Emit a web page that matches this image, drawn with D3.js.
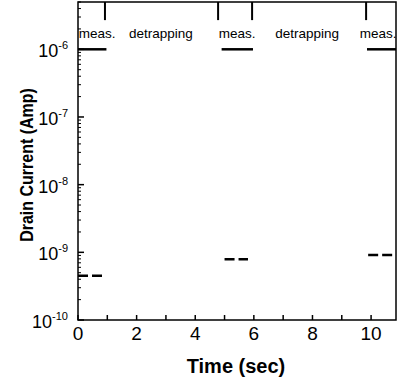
<!DOCTYPE html>
<html>
<head>
<meta charset="utf-8">
<script src="https://cdn.jsdelivr.net/npm/d3@7"></script>
<style>
  body { margin: 0; background: #fff; }
  svg text { font-family: 'Liberation Sans', Arial, sans-serif; }
</style>
</head>
<body>
<div id="chart"></div>
<script>
// time windows (sec) where the drain current was sampled at 1e-6 A
const measStart = [0, 4.9, 9.86];
const measEnd = [0.97, 5.97, 10.85];
const measLevel = [1e-6, 1e-6, 1e-6];

// vertical phase markers along the top
const markerTimes = [0.92, 4.78, 5.94, 9.83];
const markerLow = 2.7e-6;

// leakage current read between pulses (dashed)
const leakStart = [0, 5.0, 9.9];
const leakEnd = [0.88, 5.8, 10.85];
const leakLevel = [4.5e-10, 7.9e-10, 9.1e-10];

// phase labels
const phaseNames = ['meas.', 'detrapping', 'meas.', 'detrapping', 'meas.'];
const phaseTimes = [0.65, 2.83, 5.43, 7.82, 10.24];

const xTicks = [0, 2, 4, 6, 8, 10];
const xMinor = [1, 3, 5, 7, 9];
const yTicks = [1e-10, 1e-9, 1e-8, 1e-7, 1e-6];

const width = 399, height = 386;
const m = { top: 2, right: 3, bottom: 66, left: 78 };

const svg = d3.select('#chart').append('svg')
    .attr('width', width)
    .attr('height', height);

const x = d3.scaleLinear().domain([0, 10.85]).range([m.left, width - m.right]);
const y = d3.scaleLog().domain([1e-10, 5e-6]).range([height - m.bottom, m.top]);

svg.append('clipPath').attr('id', 'plot')
  .append('rect')
    .attr('x', m.left).attr('y', m.top)
    .attr('width', width - m.left - m.right)
    .attr('height', height - m.top - m.bottom);

const g = svg.append('g').attr('clip-path', 'url(#plot)');

// minor log ticks on the left axis
let minor = [];
for (let e = -10; e <= -6; e++) {
    for (let k = 2; k <= 9; k++) {
        const v = k * Math.pow(10, e);
        if (v <= y.domain()[1]) minor.push(v);
    }
}

svg.append('g')
    .selectAll('line')
    .data(minor)
    .enter().append('line')
        .attr('x1', m.left).attr('x2', m.left + 3)
        .attr('y1', d => y(d)).attr('y2', d => y(d))
        .attr('stroke', '#000').attr('stroke-width', 1);

svg.append('g')
    .selectAll('line')
    .data(yTicks)
    .enter().append('line')
        .attr('x1', m.left).attr('x2', m.left + 6)
        .attr('y1', d => y(d)).attr('y2', d => y(d))
        .attr('stroke', '#000').attr('stroke-width', 1.5);

const yl = svg.append('g')
    .selectAll('text')
    .data(yTicks)
    .enter().append('text')
        .attr('x', m.left - 10)
        .attr('y', d => y(d) + 8)
        .attr('text-anchor', 'end')
        .style('font-size', '18px');
yl.append('tspan').text('10');
yl.append('tspan')
    .attr('dy', -8)
    .style('font-size', '11px')
    .text(d => Math.round(Math.log10(d)));

// x ticks, pointing up into the plot
svg.append('g')
    .selectAll('line')
    .data(xTicks.concat(xMinor))
    .enter().append('line')
        .attr('x1', d => x(d)).attr('x2', d => x(d))
        .attr('y1', y(1e-10)).attr('y2', y(1e-10) - 5)
        .attr('stroke', '#000').attr('stroke-width', 1.5);

svg.append('g')
    .selectAll('text')
    .data(xTicks)
    .enter().append('text')
        .attr('x', d => x(d))
        .attr('y', y(1e-10) + 20)
        .attr('text-anchor', 'middle')
        .style('font-size', '19px')
        .text(d => d);

// frame
svg.append('rect')
    .attr('x', m.left).attr('y', m.top)
    .attr('width', width - m.left - m.right)
    .attr('height', height - m.top - m.bottom)
    .attr('fill', 'none')
    .attr('stroke', '#000').attr('stroke-width', 1.5);

// measurement pulses
g.selectAll('line.meas')
    .data(measStart)
    .enter().append('line')
        .attr('class', 'meas')
        .attr('x1', d => x(d))
        .attr('x2', (d, i) => x(measEnd[i]))
        .attr('y1', (d, i) => y(measLevel[i]))
        .attr('y2', (d, i) => y(measLevel[i]))
        .attr('stroke', '#000').attr('stroke-width', 2.5);

g.selectAll('line.marker')
    .data(markerTimes)
    .enter().append('line')
        .attr('class', 'marker')
        .attr('x1', d => x(d)).attr('x2', d => x(d))
        .attr('y1', y(5e-6)).attr('y2', y(markerLow))
        .attr('stroke', '#000').attr('stroke-width', 2);

g.selectAll('line.leak')
    .data(leakStart)
    .enter().append('line')
        .attr('class', 'leak')
        .attr('x1', d => x(d))
        .attr('x2', (d, i) => x(leakEnd[i]))
        .attr('y1', (d, i) => y(leakLevel[i]))
        .attr('y2', (d, i) => y(leakLevel[i]))
        .attr('stroke', '#000').attr('stroke-width', 2.5)
        .attr('stroke-dasharray', '10,4');

svg.append('g')
    .selectAll('text')
    .data(phaseNames)
    .enter().append('text')
        .attr('x', (d, i) => x(phaseTimes[i]))
        .attr('y', y(1e-6) - 11)
        .attr('text-anchor', 'middle')
        .style('font-size', '13.5px')
        .text(d => d);

// axis titles
svg.append('text')
    .attr('x', (x(0) + x(10.85)) / 2 - 1)
    .attr('y', height - 13)
    .attr('text-anchor', 'middle')
    .style('font-size', '20px')
    .style('font-weight', 'bold')
    .text('Time (sec)');

svg.append('text')
    .attr('transform', 'translate(33,165) rotate(-90) scale(1,1.2)')
    .attr('text-anchor', 'middle')
    .style('font-size', '16px')
    .style('font-weight', 'bold')
    .text('Drain Current (Amp)');
</script>
</body>
</html>
